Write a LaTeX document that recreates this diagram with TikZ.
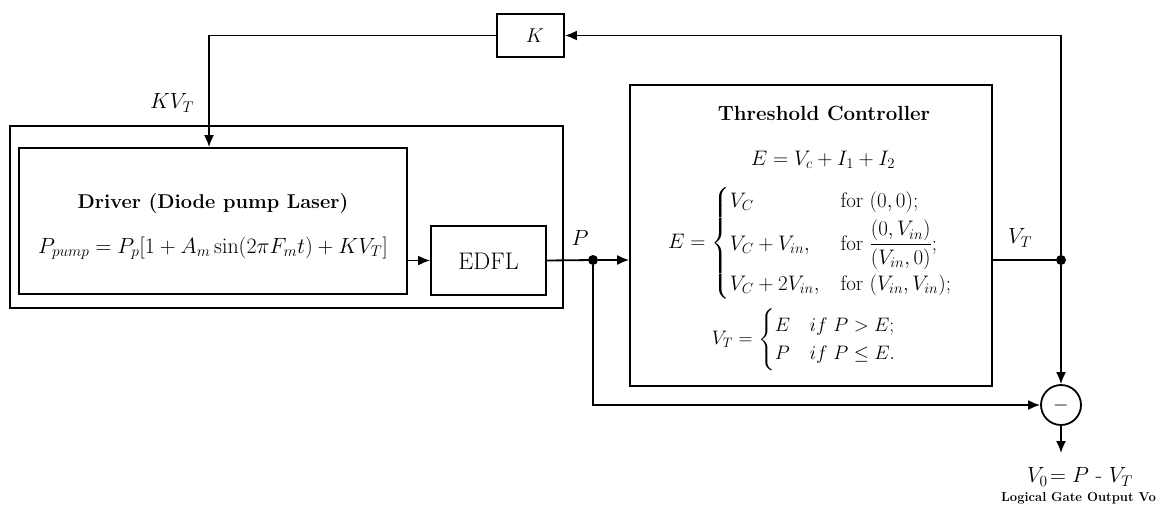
\RequirePackage{fix-cm}
\documentclass[tikz,border=0pt]{standalone}
\usepackage{amsmath}
\usetikzlibrary{arrows.meta,calc}
\tikzset{
  blk/.style={draw, line width=1.8pt, minimum width=#1},
  conn/.style={line width=1.8pt},
  arr/.style={conn, -{Latex[length=12pt,width=10pt]}},
  jdot/.style={circle, fill, inner sep=0pt, minimum size=10pt},
  lbl/.style={inner sep=0pt, font=\fontsize{22}{26}\selectfont},
}
\begin{document}
\begin{tikzpicture}[x=1pt,y=-1pt]
\useasboundingbox (0,0) rectangle (1159,506);
% boxes
\node[blk=67pt, minimum height=43pt] (K) at (530.5,35.5) {};
\node[lbl, font=\fontsize{20}{24}\selectfont] (Kt) at (535,36) {$K$};
\node[blk=553pt, minimum height=182pt] (outer) at (286.5,217) {};
\node[blk=388pt, minimum height=146pt] (drv) at (213,221) {};
\node[lbl, font=\fontsize{20}{24}\selectfont\bfseries] (drvt) at (213,204) {Driver (Diode pump Laser)};
\node[lbl] (drveq) at (213,248) {$P_{pump}=P_p[1+A_m\sin(2\pi F_m t)+KV_T]$};
\node[blk=115pt, minimum height=69pt] (edfl) at (488.5,260.5) {};
\node[lbl, font=\fontsize{24}{28}\selectfont] (edflt) at (488.5,261) {EDFL};
\node[blk=362pt, minimum height=301pt] (tc) at (811,235.5) {};
\node[lbl, font=\fontsize{20.5}{24}\selectfont\bfseries] (tct) at (824,113) {Threshold Controller};
\node[lbl, font=\fontsize{21}{25}\selectfont] (tceq1) at (823,160) {$E=V_c+I_1+I_2$};
\node[lbl, font=\fontsize{21}{25}\selectfont, anchor=west] (tceq2) at (668,243) {$E=\begin{cases} V_C & \text{for } (0,0);\\[4pt] V_C+V_{in}, & \text{for } \dfrac{(0,V_{in})}{(V_{in},0)};\\[4pt] V_C+2V_{in}, & \text{for } (V_{in},V_{in}); \end{cases}$};
\node[lbl, font=\fontsize{19.5}{23}\selectfont] (tceq3) at (804,340) {$V_T=\begin{cases} E & if\ P>E;\\ P & if\ P\le E. \end{cases}$};
% summing junction
\node[draw, circle, line width=1.8pt, minimum size=40pt, inner sep=0pt] (sub) at (1061,405) {};
\node[lbl, font=\fontsize{20}{24}\selectfont] (subt) at (1061,405) {$-$};
% dots
\node[jdot] (pdot) at (593,260) {};
\node[jdot] (vdot) at (1061,260) {};
\coordinate (out) at (1061,453);
% labels
\node[lbl] (kvt) at (172,103) {$KV_T$};
\node[lbl] (plbl) at (580,238) {$P$};
\node[lbl] (vtlbl) at (1020,238) {$V_T$};
\node[lbl] (v0) at (1080,477) {$V_0\!=P$ - $V_T$};
\node[lbl, font=\fontsize{13}{15}\selectfont\bfseries, anchor=east] (lgo) at (1156,498) {Logical Gate Output Vo};
% connectors
\draw[arr] (K.west) -| ([xshift=-4pt]drv.north);
\draw[arr] (drv.east |- edfl) -- (edfl.west);
\draw[conn] (edfl.east) -- (pdot);
\draw[arr] (pdot) -- (tc.west |- pdot);
\draw[conn] (tc.east |- vdot) -- (vdot);
\draw[arr] (vdot) |- (K.east);
\draw[arr] (vdot) -- (sub.north);
\draw[arr] (pdot) |- (sub.west);
\draw[arr] (sub.south) -- (out);
\end{tikzpicture}
\end{document}
